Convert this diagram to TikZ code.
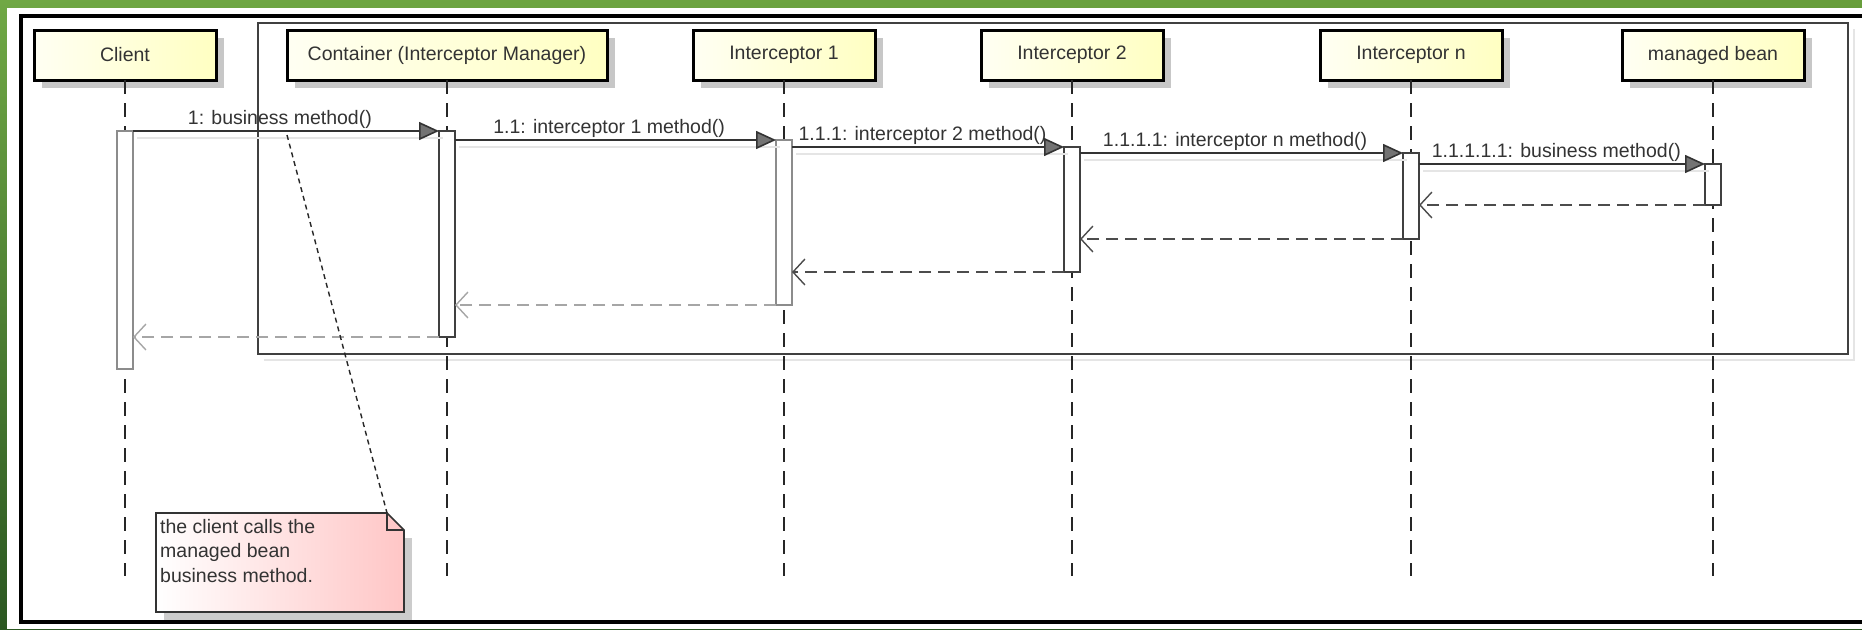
\documentclass[tikz,border=0pt]{standalone}
\usepackage{fontspec}
\setmainfont{Liberation Sans}
\usetikzlibrary{positioning,arrows.meta,shadows,shadings}
\definecolor{umltext}{HTML}{333333}
\definecolor{headfill}{HTML}{FFFFC2}
\definecolor{notefill}{HTML}{FFC6C6}
\definecolor{bgtop}{HTML}{70A845}
\definecolor{bgright}{HTML}{689E3C}
\definecolor{bgdark}{HTML}{2B5721}
\tikzset{
	head/.style={draw=black, line width=3pt, left color=headfill!20, right color=headfill, minimum width=182pt, minimum height=50pt, outer sep=0pt, text=umltext, drop shadow={shadow xshift=8pt, shadow yshift=-8pt, fill=black!22, opacity=1}},
	act/.style={draw=black!75, fill=white, line width=1.5pt, minimum width=16pt, inner sep=0pt, outer sep=0pt},
	actfaint/.style={act, draw=black!45},
	lifeline/.style={black!85, line width=2pt, dash pattern=on 14pt off 9pt},
	msg/.style={draw=black!80, line width=1.6pt, -{Triangle[length=20pt,width=18pt,fill=black!55]}, preaction={draw=black!10, -, line width=1.6pt, transform canvas={shift={(4pt,-7pt)}}}},
	ret/.style={draw=black!70, line width=1.6pt, dash pattern=on 12pt off 7pt, -{Straight Barb[length=12pt,width=26pt,line width=1.4pt]}},
	retfaint/.style={ret, draw=black!35},
	lbl/.style={above, pos=0.48, inner sep=2pt, text=umltext},
	notebox/.style={minimum width=248pt, minimum height=99pt, inner sep=0pt, outer sep=0pt},
	noteline/.style={black!85, line width=1.4pt, dash pattern=on 5pt off 4pt}
}

\begin{document}
\begin{tikzpicture}[x=1pt, y=-1pt, font=\fontsize{19.5}{24.5}\selectfont]
	\useasboundingbox (0,0) rectangle (1862,629);
	\shade[upper left=bgtop, upper right=bgright, lower left=bgdark, lower right=bgdark] (0,0) rectangle (1862,629);
	\fill[white] (7,8) rectangle (1862,629);
	\draw[line width=4pt] (1862,16) -- (21,16) -- (21,622) -- (1862,622);
	\draw[black!10, line width=2pt] (264,360) -- (1854,360) -- (1854,29);
	\draw[black!75, line width=2pt] (258,23) rectangle (1848,354);

	\node[head] (hcl) at (125,55) {Client};
	\node[head, minimum width=320pt] (hcon) at (447,55) {Container (Interceptor Manager)};
	\node[head] (hi1) at (784,55) {Interceptor 1};
	\node[head] (hi2) at (1072,55) {Interceptor 2};
	\node[head] (hin) at (1411,55) {Interceptor n};
	\node[head] (hmb) at (1713,55) {managed bean};

	\coordinate (lend) at (0,576);
	\foreach \h in {hcl,hcon,hi1,hi2,hin,hmb}
		\draw[lifeline] (\h.south) -- (\h.south |- lend);

	\node[actfaint, minimum height=238pt, below=51pt of hcl] (acl) {};
	\node[act, minimum height=206pt, below=51pt of hcon] (acon) {};
	\node[actfaint, minimum height=165pt, below=60pt of hi1] (ai1) {};
	\node[act, minimum height=125pt, below=67pt of hi2] (ai2) {};
	\node[act, minimum height=86pt, below=73pt of hin] (ain) {};
	\node[act, minimum height=41pt, below=84pt of hmb] (amb) {};

	\draw[msg] (acl.north east) -- node[lbl] {1: business method()} (acon.north west);
	\draw[msg] (acon.east |- ai1.north) -- node[lbl] {1.1: interceptor 1 method()} (ai1.north west);
	\draw[msg] (ai1.east |- ai2.north) -- node[lbl] {1.1.1: interceptor 2 method()} (ai2.north west);
	\draw[msg] (ai2.east |- ain.north) -- node[lbl] {1.1.1.1: interceptor n method()} (ain.north west);
	\draw[msg] (ain.east |- amb.north) -- node[lbl] {1.1.1.1.1: business method()} (amb.north west);

	\draw[ret] (amb.south west) -- (ain.east |- amb.south);
	\draw[ret] (ain.south west) -- (ai2.east |- ain.south);
	\draw[ret] (ai2.south west) -- (ai1.east |- ai2.south);
	\draw[retfaint] (ai1.south west) -- (acon.east |- ai1.south);
	\draw[retfaint] (acon.south west) -- (acl.east |- acon.south);

	\node[notebox] (note) at (280,562.5) {};
	\fill[black!20] ([shift={(8pt,-8pt)}]note.south west) rectangle ([shift={(8pt,-25pt)}]note.north east);
	\path[draw=black!80, line width=1.6pt, left color=white, right color=notefill] (note.north west) -- ([xshift=-17pt]note.north east) -- ([yshift=-17pt]note.north east) -- (note.south east) -- (note.south west) -- cycle;
	\draw[black!80, line width=1.6pt] ([xshift=-17pt]note.north east) |- ([yshift=-17pt]note.north east);
	\node[anchor=north west, align=left, inner sep=0pt, text=umltext] (notetxt) at ([shift={(4pt,-6pt)}]note.north west) {the client calls the\\managed bean\\business method.};
	\coordinate (ncall) at (287,135);
	\draw[noteline] (ncall) -- ([xshift=-17pt]note.north east);
\end{tikzpicture}
\end{document}
